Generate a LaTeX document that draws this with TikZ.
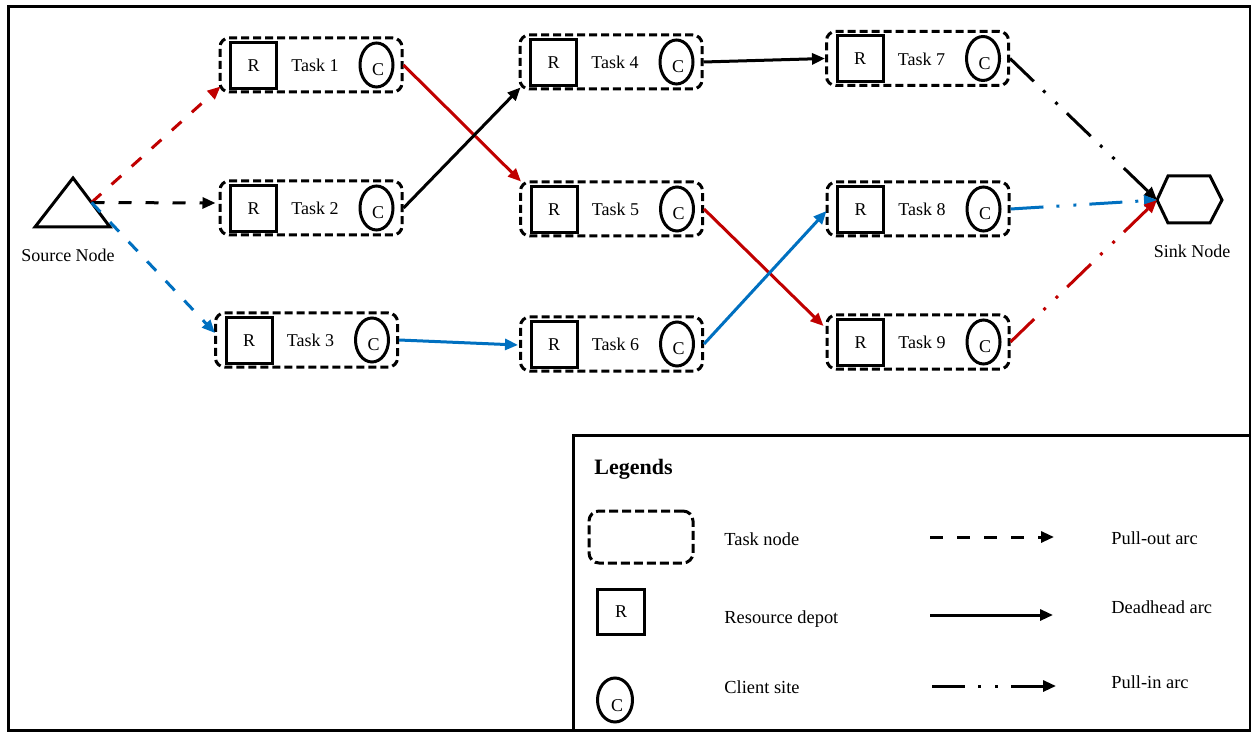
\documentclass[tikz,border=0pt]{standalone}
\usepackage{fontspec}
\setmainfont{Liberation Serif}
\usetikzlibrary{arrows.meta,calc,shapes.geometric}
\definecolor{arcred}{RGB}{192,0,0}
\definecolor{arcblue}{RGB}{0,112,192}

\tikzset{
  txt/.style={font=\fontsize{9}{11}\selectfont, inner sep=0pt},
  legtxt/.style={font=\fontsize{9.2}{11}\selectfont, inner sep=0pt, anchor=base west},
  taskbox/.style={draw, line width=1.5pt, dash pattern=on 4pt off 2pt,
    rounded corners=4.5pt, minimum width=91pt, minimum height=27pt, inner sep=0pt},
  depot/.style={draw, line width=1.5pt, minimum width=23pt, minimum height=23pt,
    inner sep=0pt, font=\fontsize{9}{11}\selectfont},
  client/.style={draw, ellipse, line width=1.5pt, minimum width=16.5pt,
    minimum height=22pt, inner sep=0pt, font=\fontsize{9.5}{11}\selectfont},
  arc/.style={line width=1.5pt, -{Triangle[length=6.5pt,width=5.5pt]}},
  pullout/.style={arc, dash pattern=on 6.5pt off 7pt},
  deadhead/.style={arc},
  pullin/.style={arc, dash pattern=on 16.5pt off 6.5pt on 1.5pt off 7pt on 1.5pt off 6.5pt},
}

% the C sits a little below the middle of its ellipse
\newcommand\ClientMark[1]{\raisebox{-#1}[0pt][0pt]{C}}

% one task: dashed frame, resource depot R, task label and client site C
\newcommand\TaskNode[3]{%
  \node[taskbox] (#1) at #2 {};
  \node[depot] (#1-r) at ($(#1.west)+(35,0.5)$) {R};
  \node[client] (#1-c) at ($(#1.east)+(-27,0)$) {};
  \node[txt] (#1-cl) at ($(#1-c.center)+(1.5,0)$) {\ClientMark{5.3pt}};
  \node[txt] (#1-l) at ($(#1.center)+(4,0.5)$) {Task #3};
}

\begin{document}
\begin{tikzpicture}[x=0.5pt,y=-0.5pt]
\useasboundingbox (0,0) rectangle (1251,732);

% outer frame
\draw[line width=1.5pt] (8,7) rectangle (1250.5,730.5);

% source node
\draw[line width=1.5pt, line join=miter]
  (73,178) coordinate (src-top) -- (110,227) coordinate (src-right)
  -- (35,227) coordinate (src-left) -- cycle;
\coordinate (src) at ($(src-top)!0.5!(src-right)$);
\node[txt] (src-l) at (68,255) {Source Node};

% sink node
\draw[line width=1.5pt, line join=miter]
  (1157,200) coordinate (sink) -- (1168,176) -- (1210,176) -- (1222,200)
  -- (1210,223) -- (1168,223) -- cycle;
\node[txt] (sink-l) at (1192,251) {Sink Node};

% tasks
\TaskNode{t1}{(311,65)}{1}
\TaskNode{t2}{(311,208)}{2}
\TaskNode{t3}{(306.5,340)}{3}
\TaskNode{t4}{(611,62)}{4}
\TaskNode{t5}{(611.5,209)}{5}
\TaskNode{t6}{(611.5,344)}{6}
\TaskNode{t7}{(917.5,58.5)}{7}
\TaskNode{t8}{(918,209)}{8}
\TaskNode{t9}{(918,342)}{9}

% pull-out arcs
\draw[pullout, arcred]  (src) -- ($(t1.south west)+(2,-7)$);
\draw[pullout, black]   (src) -- ($(t2.west)+(-3,-5)$);
\draw[pullout, arcblue] (src) -- ($(t3.west)+(1,-7)$);

% deadhead arcs
\draw[deadhead, arcred]  (t1.east) -- ($(t5.north west)+(2,1)$);
\draw[deadhead, black]   (t2.east) -- ($(t4.south west)+(2,-3)$);
\draw[deadhead, arcblue] (t3.east) -- ($(t6.west)+(-1,1)$);
\draw[deadhead, black]   (t4.east) -- (t7.west);
\draw[deadhead, arcred]  (t5.east) -- ($(t9.west)+(-2,-16)$);
\draw[deadhead, arcblue] (t6.east) -- ($(t8.west)+(1,2)$);

% pull-in arcs
\draw[pullin, black]   (t7.east) -- (sink);
\draw[pullin, arcblue] (t8.east) -- (sink);
\draw[pullin, arcred]  (t9.east) -- (sink);

% legend
\draw[line width=1.5pt] (573,435) rectangle (1250.5,730.5);
\node[font=\bfseries\fontsize{11}{13}\selectfont, inner sep=0pt, anchor=base west]
  (lg-title) at (594,474) {Legends};

\node[taskbox, minimum width=52pt, minimum height=26pt, rounded corners=5pt,
  dash pattern=on 4.5pt off 2pt] (lg-task) at (641,537) {};
\node[depot, minimum width=23.5pt, minimum height=22.5pt] (lg-depot) at (621,612) {R};
\node[client, minimum width=17.5pt, minimum height=22pt] (lg-client) at (615,700) {};
\node[txt] (lg-client-c) at ($(lg-client.center)+(2,0)$) {\ClientMark{5.5pt}};

\node[legtxt] (lg-task-l)   at (724,545) {Task node};
\node[legtxt] (lg-depot-l)  at (724,623) {Resource depot};
\node[legtxt] (lg-client-l) at (724,693) {Client site};

\coordinate (po-a) at (930,537);  \coordinate (po-b) at (1054,537);
\coordinate (dh-a) at (930,615);  \coordinate (dh-b) at (1053,615);
\coordinate (pi-a) at (932,686);  \coordinate (pi-b) at (1056,686);
\draw[pullout]  (po-a) -- (po-b);
\draw[deadhead] (dh-a) -- (dh-b);
\draw[pullin]   (pi-a) -- (pi-b);

\node[legtxt] (lg-po-l) at (1111,544) {Pull-out arc};
\node[legtxt] (lg-dh-l) at (1111,613) {Deadhead arc};
\node[legtxt] (lg-pi-l) at (1111,688) {Pull-in arc};
\end{tikzpicture}
\end{document}
